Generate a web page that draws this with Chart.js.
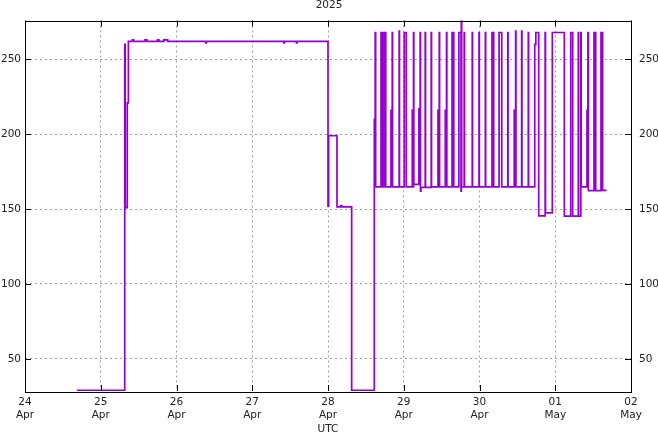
<!DOCTYPE html>
<html>
<head>
<meta charset="utf-8">
<script src="https://cdn.jsdelivr.net/npm/chart.js@4/dist/chart.umd.min.js"></script>
<style>
  html, body { margin: 0; padding: 0; background: #fff; }
  #wrap { width: 658px; height: 432px; }
</style>
</head>
<body>
<div id="wrap"><canvas id="canvas1"></canvas></div>
<script>
// hours since 24 Apr 2025 00:00 UTC, value holds until the next point
var hours = [
    16.4, 31.6, 31.75, 32.4, 32.75,
    34.0, 34.4, 38.0, 38.6, 42.0, 42.4, 44.0, 45.2, 57.3, 57.5, 82.0, 82.2, 86.0, 86.2,
    96.0, 96.2, 98.85, 100.0, 100.4, 103.5,
    110.67, 110.95, 111.1, 112.8, 113.2, 113.75, 114.3, 115.95, 116.25, 116.35, 116.45,
    118.55, 118.65, 120.15, 120.8, 122.7, 122.95, 123.1, 123.2, 124.8, 125.05, 125.2, 125.3, 125.45,
    126.8, 126.9, 128.7, 128.8, 130.85, 131.1, 131.25, 131.35, 133.15, 133.4, 133.55, 133.65,
    135.3, 135.85, 137.47, 138.15, 138.23, 138.35, 139.15, 139.25, 141.7, 141.8, 143.85, 143.95,
    145.85, 145.95, 147.95, 148.5, 150.2, 151.05, 152.95, 153.05, 155.0, 155.25, 155.45, 155.55,
    157.35, 157.45, 159.45, 159.55, 161.5, 161.85,
    162.76, 164.8, 164.9, 167.07, 170.87, 172.9, 173.53, 175.3, 175.4, 176.1, 176.2,
    178.06, 178.35, 178.5, 180.28, 180.82, 182.5, 183.0, 184.3
];
var values = [
    29, 260, 151, 221, 262,
    263, 262, 263, 262, 263, 262, 263, 262, 261, 262, 261, 262, 261, 262,
    152, 199, 151.5, 152.3, 151.5, 29,
    210, 268, 164.8, 268, 164.8, 268, 164.8, 216, 164.8, 268, 164.8,
    269, 164.8, 268, 164.8, 216, 164.8, 268, 166.5, 217, 166.5, 268, 162, 164.5,
    268, 164.5, 268, 164.8, 216, 164.8, 268, 164.8, 216, 164.8, 268, 164.8,
    268, 164.8, 268, 162, 276, 164.8, 268, 164.8, 268, 164.8, 268, 164.8,
    268, 164.8, 268, 164.8, 268, 164.8, 268, 164.8, 216, 164.8, 269, 164.8,
    269, 164.8, 268, 164.8, 260, 268,
    145.5, 268, 147.5, 268, 145.3, 268, 145.3, 268, 145.3, 268, 164.8,
    216, 268, 162.3, 268, 162.3, 268, 162.5, 162.5
];
var dayLabels = ['24', '25', '26', '27', '28', '29', '30', '01', '02'];
var monthLabels = ['Apr', 'Apr', 'Apr', 'Apr', 'Apr', 'Apr', 'Apr', 'May', 'May'];
var yTicks = [50, 100, 150, 200, 250];

var points = hours.map(function(h, i) {
    return { x: h, y: values[i] };
});

var font = { family: 'DejaVu Sans', size: 10.5 };

function setYTicks(s) {
    s.ticks = yTicks.map(function(v) { return { value: v }; });
}

// box round the plot and gnuplot style inward ticks
var framePlugin = {
    id: 'frame',
    afterDraw: function(chart) {
        var ctx = chart.ctx;
        var a = chart.chartArea;
        var xs = chart.scales.x;
        var ys = chart.scales.y;
        ctx.save();
        ctx.strokeStyle = '#000';
        ctx.lineWidth = 1;
        ctx.beginPath();
        xs.ticks.forEach(function(t) {
            var px = Math.round(xs.getPixelForValue(t.value)) + 0.5;
            ctx.moveTo(px, a.bottom);
            ctx.lineTo(px, a.bottom - 6);
            ctx.moveTo(px, a.top);
            ctx.lineTo(px, a.top + 6);
        });
        yTicks.forEach(function(v) {
            var py = Math.round(ys.getPixelForValue(v)) + 0.5;
            ctx.moveTo(a.left, py);
            ctx.lineTo(a.left + 6, py);
            ctx.moveTo(a.right, py);
            ctx.lineTo(a.right - 6, py);
        });
        ctx.stroke();
        ctx.strokeRect(Math.round(a.left) + 0.5, Math.round(a.top) + 0.5,
            Math.round(a.right - a.left), Math.round(a.bottom - a.top));
        ctx.restore();
    }
};

var config1 = {
    type: 'line',
    data: {
        datasets: [{
            data: points,
            borderColor: '#9400d3',
            borderWidth: 1.7,
            stepped: 'before',
            pointRadius: 0,
            fill: false
        }]
    },
    options: {
        responsive: true,
        maintainAspectRatio: false,
        animation: false,
        layout: { padding: 0 },
        plugins: {
            legend: { display: false },
            tooltip: { enabled: false },
            title: {
                display: true,
                text: '2025',
                color: '#222',
                font: { family: 'DejaVu Sans', size: 10.5, weight: 'normal', lineHeight: 1 },
                padding: { top: 0, bottom: 10 }
            }
        },
        scales: {
            x: {
                type: 'linear',
                min: 0,
                max: 192,
                border: { display: false, dash: [2, 3] },
                grid: { color: '#a0a0a0', drawTicks: false, lineWidth: 1 },
                ticks: {
                    stepSize: 24,
                    color: '#222',
                    font: font,
                    padding: 5,
                    maxRotation: 0,
                    callback: function(v) {
                        var i = Math.round(v / 24);
                        return [dayLabels[i], monthLabels[i]];
                    }
                },
                title: {
                    display: true,
                    text: 'UTC',
                    color: '#222',
                    font: { family: 'DejaVu Sans', size: 10.5, lineHeight: 1 },
                    padding: { top: 0, bottom: -3 }
                },
                afterFit: function(s) { s.height = 41; }
            },
            y: {
                position: 'left',
                min: 28.5,
                max: 276,
                border: { display: false, dash: [2, 3] },
                grid: { color: '#a0a0a0', drawTicks: false, lineWidth: 1 },
                afterBuildTicks: setYTicks,
                ticks: {
                    color: '#222',
                    font: font,
                    padding: 4
                },
                afterFit: function(s) { s.width = 25; }
            },
            y2: {
                position: 'right',
                min: 28.5,
                max: 276,
                border: { display: false },
                grid: { display: false, drawTicks: false },
                afterBuildTicks: setYTicks,
                ticks: {
                    color: '#222',
                    font: font,
                    padding: 8
                },
                afterFit: function(s) { s.width = 27; }
            }
        }
    },
    plugins: [framePlugin]
};

function loadStepChart() {
    var ctx = document.getElementById('canvas1').getContext('2d');
    window.myStep = new Chart(ctx, config1);
}
loadStepChart();
</script>
</body>
</html>
